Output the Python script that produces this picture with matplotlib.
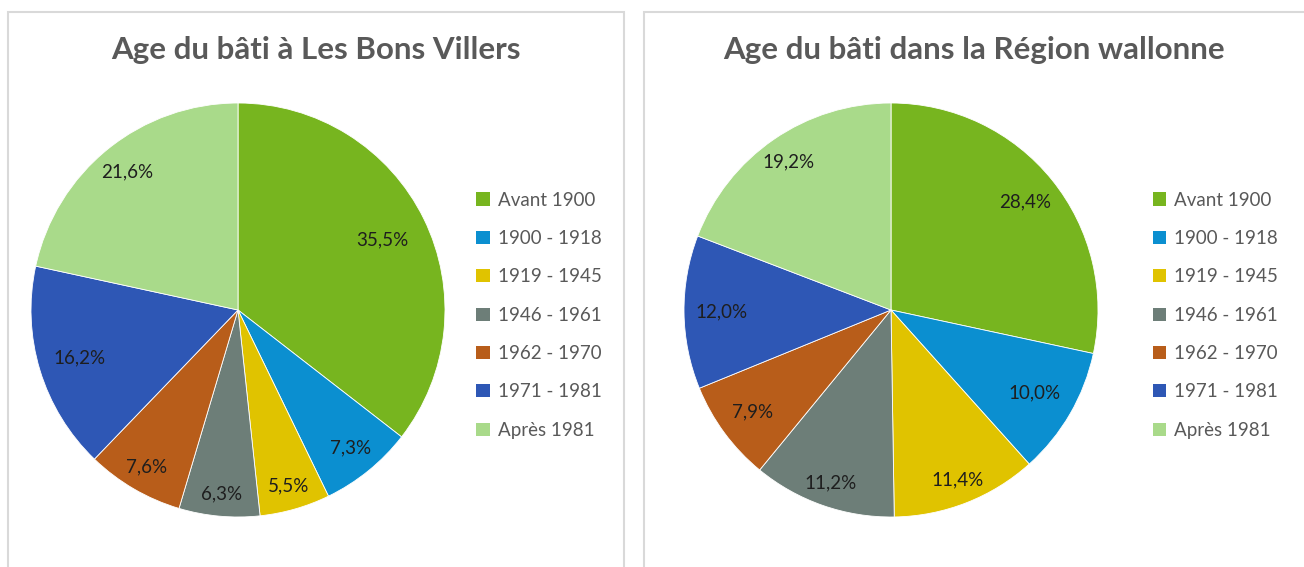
import math
import matplotlib
matplotlib.use("Agg")
import matplotlib.pyplot as plt
from matplotlib.patches import Rectangle, Patch

plt.rcParams['font.family'] = ['Lato', 'DejaVu Sans']

categories = ["Avant 1900", "1900 - 1918", "1919 - 1945", "1946 - 1961",
              "1962 - 1970", "1971 - 1981", "Après 1981"]
bons_villers = [35.5, 7.3, 5.5, 6.3, 7.6, 16.2, 21.6]
wallonie = [28.4, 10.0, 11.4, 11.2, 7.9, 12.0, 19.2]
titles = ["Age du bâti à Les Bons Villers", "Age du bâti dans la Région wallonne"]
colors = ["#77B51F", "#0B8FD0", "#E0C300", "#6D7E78",
          "#B85D1A", "#2E57B5", "#A9DA8A"]

# radial placement of each percentage label (fraction of the radius)
label_dist_left = [0.775, 0.86, 0.885, 0.89, 0.875, 0.80, 0.855]
label_dist_right = [0.83, 0.80, 0.88, 0.885, 0.83, 0.82, 0.87]

W, H = 1304, 567
fig = plt.figure(figsize=(W / 100, H / 100), dpi=100)


def fx(px):
    return px / W


def fy(py):
    return 1 - py / H


# chart frames
for x0, x1 in [(8, 624), (644, 1330)]:
    fig.add_artist(Rectangle((fx(x0), fy(620)), fx(x1 - x0), (620 - 12) / H,
                             transform=fig.transFigure, fill=False,
                             edgecolor="#D9D9D9", linewidth=1.5))


def fmt(v):
    return f"{v:.1f}".replace(".", ",") + "%"


panels = [(bons_villers, label_dist_left, 238, 481, 316),
          (wallonie, label_dist_right, 891, 1157, 974)]
for (vals, dists, cx, lx, tx), title in zip(panels, titles):
    r = 207
    ax = fig.add_axes([fx(cx - r), fy(310 + r), 2 * r / W, 2 * r / H])
    ax.pie(vals, colors=colors, startangle=90, counterclock=False, radius=1,
           wedgeprops=dict(edgecolor="white", linewidth=0.6))
    total = sum(vals)
    acc = 0.0
    for v, d in zip(vals, dists):
        mid = math.radians(90 - (acc + v / 2) / total * 360)
        acc += v
        ax.text(d * math.cos(mid), d * math.sin(mid), fmt(v),
                ha="center", va="center", fontsize=13.5, color="#1E1E1E")
    ax.set_xlim(-1, 1)
    ax.set_ylim(-1, 1)
    ax.set_aspect("equal")
    ax.axis("off")

    fig.text(fx(tx), fy(50), title, ha="center", va="center", fontsize=22.5,
             fontweight="bold", color="#595959")

    handles = [Patch(facecolor=c, edgecolor="none") for c in colors]
    fig.legend(handles, categories, loc="upper left",
               bbox_to_anchor=(fx(lx - 12), fy(184)), frameon=False,
               fontsize=13.5, labelcolor="#595959", handlelength=0.7,
               handleheight=0.7, handletextpad=0.45, labelspacing=1.14,
               borderaxespad=0)

fig.savefig("out.png", dpi=100, facecolor="white")
